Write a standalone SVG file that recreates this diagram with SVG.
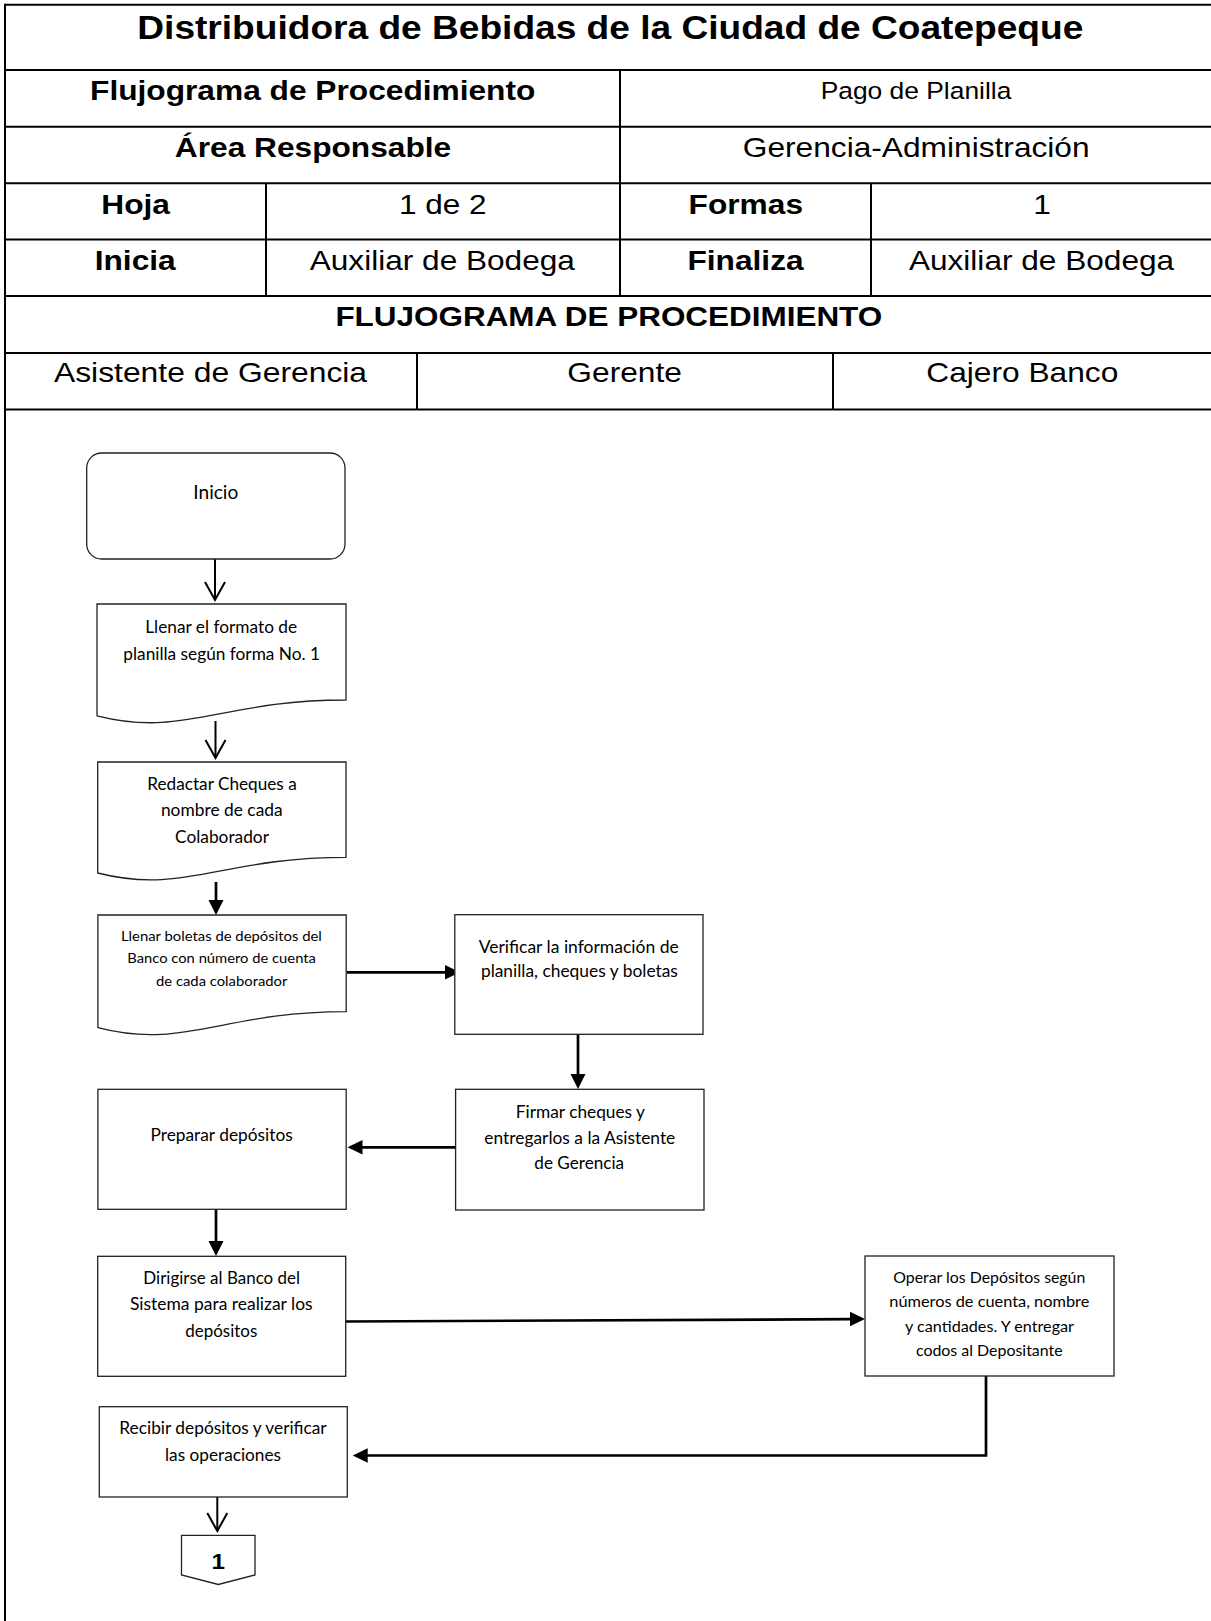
<svg xmlns="http://www.w3.org/2000/svg" width="1211" height="1621" viewBox="0 0 1211 1621">
<style>
.grid{stroke:#000;stroke-width:2;fill:none}
.hb{font-family:"Liberation Sans",Arial,sans-serif;font-weight:bold;font-size:28.5px;fill:#000;text-anchor:middle}
.hr{font-family:"Liberation Sans",Arial,sans-serif;font-size:28.5px;fill:#000;text-anchor:middle}
.box{fill:#fff;stroke:#222;stroke-width:1.3}
.t{font-family:Lato,"Open Sans",sans-serif;font-size:16.5px;fill:#000;text-anchor:middle}
.ts{font-size:14.3px}
.to{font-size:15.8px}
.thin{stroke:#000;stroke-width:2;fill:none}
.thick{stroke:#000;stroke-width:2.7;fill:none}
.head{fill:#000;stroke:none}
</style>
<rect x="0" y="0" width="1211" height="1621" fill="#fff"/>
<g id="table">
<line class="grid" x1="5" y1="4.7" x2="1211" y2="4.7"/>
<line class="grid" x1="5" y1="3.7" x2="5" y2="1621"/>
<line class="grid" x1="5" y1="70" x2="1211" y2="70"/>
<line class="grid" x1="5" y1="126.7" x2="1211" y2="126.7"/>
<line class="grid" x1="5" y1="183.3" x2="1211" y2="183.3"/>
<line class="grid" x1="5" y1="239.5" x2="1211" y2="239.5"/>
<line class="grid" x1="5" y1="296" x2="1211" y2="296"/>
<line class="grid" x1="5" y1="353" x2="1211" y2="353"/>
<line class="grid" x1="5" y1="409.5" x2="1211" y2="409.5"/>
<line class="grid" x1="620" y1="70" x2="620" y2="296"/>
<line class="grid" x1="266" y1="183.3" x2="266" y2="296"/>
<line class="grid" x1="871" y1="183.3" x2="871" y2="296"/>
<line class="grid" x1="417" y1="353" x2="417" y2="409.5"/>
<line class="grid" x1="833" y1="353" x2="833" y2="409.5"/>
<text class="hb" style="font-size:34px" transform="translate(610.3 38.5) scale(1.091 1)">Distribuidora de Bebidas de la Ciudad de Coatepeque</text>
<text class="hb" transform="translate(312.7 99.5) scale(1.112 1)">Flujograma de Procedimiento</text>
<text class="hr" style="font-size:23.5px" transform="translate(916 99) scale(1.123 1)">Pago de Planilla</text>
<text class="hb" transform="translate(313 157) scale(1.112 1)">Área Responsable</text>
<text class="hr" transform="translate(916.2 157) scale(1.112 1)">Gerencia-Administración</text>
<text class="hb" transform="translate(135.6 213.5) scale(1.112 1)">Hoja</text>
<text class="hr" transform="translate(442.7 213.5) scale(1.105 1)">1 de 2</text>
<text class="hb" transform="translate(745.8 213.5) scale(1.112 1)">Formas</text>
<text class="hr" transform="translate(1042 213.5) scale(1.112 1)">1</text>
<text class="hb" transform="translate(135.2 269.5) scale(1.112 1)">Inicia</text>
<text class="hr" transform="translate(442.3 269.5) scale(1.109 1)">Auxiliar de Bodega</text>
<text class="hb" transform="translate(745.5 269.5) scale(1.112 1)">Finaliza</text>
<text class="hr" transform="translate(1041.5 269.5) scale(1.109 1)">Auxiliar de Bodega</text>
<text class="hb" transform="translate(608.8 326) scale(1.104 1)">FLUJOGRAMA DE PROCEDIMIENTO</text>
<text class="hr" transform="translate(210.5 382) scale(1.117 1)">Asistente de Gerencia</text>
<text class="hr" transform="translate(624.6 382) scale(1.112 1)">Gerente</text>
<text class="hr" transform="translate(1022.3 382) scale(1.112 1)">Cajero Banco</text>
</g>
<g id="connectors">
<line class="thin" x1="215" y1="559" x2="215" y2="600"/>
<polyline class="thin" points="205,582 215,600 225,582"/>
<line class="thin" x1="215.5" y1="721" x2="215.5" y2="758"/>
<polyline class="thin" points="205.5,740 215.5,758 225.5,740"/>
<line class="thick" x1="216" y1="882" x2="216" y2="902"/>
<polygon class="head" points="208.5,900 223.5,900 216,915"/>
<line class="thick" x1="347" y1="972.3" x2="447" y2="972.3"/>
<polygon class="head" points="445,965 460,972.3 445,979.6"/>
<line class="thick" x1="578" y1="1034.3" x2="578" y2="1076"/>
<polygon class="head" points="570.5,1074 585.5,1074 578,1089"/>
<line class="thick" x1="458" y1="1147.3" x2="360" y2="1147.3"/>
<polygon class="head" points="362.5,1140 347.5,1147.3 362.5,1154.6"/>
<line class="thick" x1="216" y1="1209.3" x2="216" y2="1243"/>
<polygon class="head" points="208.5,1241 223.5,1241 216,1256"/>
<line class="thick" x1="346" y1="1321.5" x2="852" y2="1319.2"/>
<polygon class="head" points="850,1311.7 865,1319 850,1326.3"/>
<polyline class="thick" points="986,1376 986,1455.5 365,1455.5"/>
<polygon class="head" points="367.7,1448.2 352.7,1455.5 367.7,1462.8"/>
<line class="thin" x1="217.3" y1="1497" x2="217.3" y2="1531"/>
<polyline class="thin" points="207.3,1513 217.3,1531 227.3,1513"/>
</g>
<g id="n-inicio">
<rect class="box" x="86.7" y="453" width="258.3" height="106" rx="15"/>
<text class="t" style="font-size:18.5px" x="215.8" y="499.3" textLength="45" lengthAdjust="spacingAndGlyphs">Inicio</text>
</g>
<g id="n-llenar-formato">
<path class="box" d="M97,604 H346 V700 C221.5,700 184,738 97,715.8 Z"/>
<text class="t" x="221.2" y="633.3" textLength="152" lengthAdjust="spacingAndGlyphs">Llenar el formato de</text>
<text class="t" x="221.7" y="659.5" textLength="196.7" lengthAdjust="spacingAndGlyphs">planilla según forma No. 1</text>
</g>
<g id="n-redactar">
<path class="box" d="M97.7,762 H346 V857.3 C221.8,857.3 184,895 97.7,873 Z"/>
<text class="t" x="222" y="790" textLength="149.4" lengthAdjust="spacingAndGlyphs">Redactar Cheques a</text>
<text class="t" x="221.8" y="816" textLength="121.7" lengthAdjust="spacingAndGlyphs">nombre de cada</text>
<text class="t" x="222" y="842.7" textLength="94" lengthAdjust="spacingAndGlyphs">Colaborador</text>
</g>
<g id="n-boletas">
<path class="box" d="M97.9,915 H346.2 V1011.7 C222,1011.7 184,1050 97.9,1027.6 Z"/>
<text class="t ts" x="221.4" y="940.7" textLength="200.8" lengthAdjust="spacingAndGlyphs">Llenar boletas de depósitos del</text>
<text class="t ts" x="221.6" y="962.7" textLength="188.6" lengthAdjust="spacingAndGlyphs">Banco con número de cuenta</text>
<text class="t ts" x="221.7" y="985.7" textLength="131.3" lengthAdjust="spacingAndGlyphs">de cada colaborador</text>
</g>
<g id="n-verificar">
<rect class="box" x="454.8" y="914.7" width="248.2" height="119.6"/>
<text class="t" x="578.7" y="952.7" textLength="200" lengthAdjust="spacingAndGlyphs">Verificar la información de</text>
<text class="t" x="579.4" y="977.3" textLength="197" lengthAdjust="spacingAndGlyphs">planilla, cheques y boletas</text>
</g>
<g id="n-firmar">
<rect class="box" x="455.6" y="1089.3" width="248.4" height="120.7"/>
<text class="t" x="580.4" y="1117.7" textLength="129.2" lengthAdjust="spacingAndGlyphs">Firmar cheques y</text>
<text class="t" x="579.8" y="1144" textLength="191" lengthAdjust="spacingAndGlyphs">entregarlos a la Asistente</text>
<text class="t" x="579.2" y="1169.3" textLength="89.7" lengthAdjust="spacingAndGlyphs">de Gerencia</text>
</g>
<g id="n-preparar">
<rect class="box" x="97.9" y="1089.3" width="248.3" height="120"/>
<text class="t" x="221.6" y="1140.7" textLength="142.2" lengthAdjust="spacingAndGlyphs">Preparar depósitos</text>
</g>
<g id="n-dirigirse">
<rect class="box" x="97.7" y="1256.3" width="248" height="120"/>
<text class="t" x="221.7" y="1284" textLength="156.7" lengthAdjust="spacingAndGlyphs">Dirigirse al Banco del</text>
<text class="t" x="221.3" y="1310" textLength="182.7" lengthAdjust="spacingAndGlyphs">Sistema para realizar los</text>
<text class="t" x="221.3" y="1336.7" textLength="72" lengthAdjust="spacingAndGlyphs">depósitos</text>
</g>
<g id="n-operar">
<rect class="box" x="865" y="1256" width="249" height="120"/>
<text class="t to" x="989.3" y="1283.3" textLength="192" lengthAdjust="spacingAndGlyphs">Operar los Depósitos según</text>
<text class="t to" x="989.3" y="1307.3" textLength="200" lengthAdjust="spacingAndGlyphs">números de cuenta, nombre</text>
<text class="t to" x="989.5" y="1331.7" textLength="169" lengthAdjust="spacingAndGlyphs">y cantidades. Y entregar</text>
<text class="t to" x="989.3" y="1356" textLength="146.7" lengthAdjust="spacingAndGlyphs">codos al Depositante</text>
</g>
<g id="n-recibir">
<rect class="box" x="99.3" y="1406.7" width="248" height="90.3"/>
<text class="t" x="223" y="1434" textLength="207.3" lengthAdjust="spacingAndGlyphs">Recibir depósitos y verificar</text>
<text class="t" x="223" y="1460.7" textLength="116" lengthAdjust="spacingAndGlyphs">las operaciones</text>
</g>
<g id="n-conector-1">
<polygon class="box" points="181.5,1535.3 255,1535.3 255,1575 218.3,1584.5 181.5,1575"/>
<text class="hb" style="font-size:22px" transform="translate(218.3 1569) scale(1.1 1)">1</text>
</g>
</svg>
